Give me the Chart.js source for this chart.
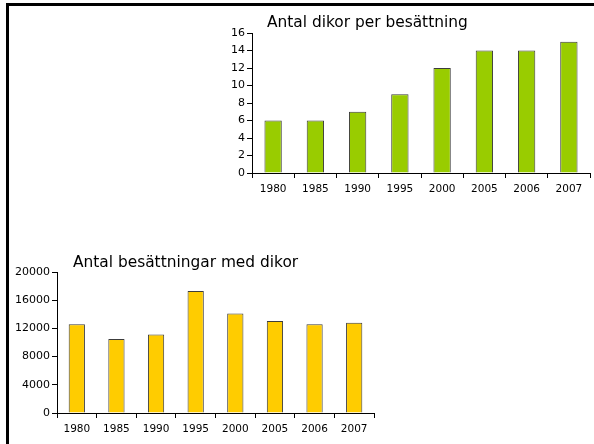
<!DOCTYPE html>
<html>
<head>
<meta charset="utf-8">
<script src="https://cdn.jsdelivr.net/npm/chart.js"></script>
<style>
  body { margin: 0; width: 594px; height: 444px; background: #fff; position: relative; overflow: hidden; }
  #frame { position: absolute; left: 6px; top: 3px; width: 600px; height: 460px;
           border-top: 3px solid #000; border-left: 3px solid #000; }
  canvas { position: absolute; }
  #topChart { left: 200px; top: 8px; }
  #bottomChart { left: 10px; top: 245px; }
</style>
</head>
<body>
<div id="frame"></div>
<canvas id="topChart" width="394" height="200"></canvas>
<canvas id="bottomChart" width="380" height="199"></canvas>
<script>
// data
const years = ['1980', '1985', '1990', '1995', '2000', '2005', '2006', '2007'];
const cowsPerHerd = [6, 6, 7, 9, 12, 14, 14, 15];
const herdsWithCows = [12600, 10500, 11150, 17300, 14100, 13050, 12600, 12800];
const topTitle = 'Antal dikor per besättning';
const bottomTitle = 'Antal besättningar med dikor';

const FONT = "'DejaVu Sans', sans-serif";

// title drawn at a fixed spot of the canvas, like the original slide
const cornerTitle = {
  id: 'cornerTitle',
  afterDraw(chart, args, opts) {
    const ctx = chart.ctx;
    ctx.save();
    ctx.font = '15.4px ' + FONT;
    ctx.fillStyle = '#000';
    ctx.textBaseline = 'alphabetic';
    ctx.fillText(opts.text, opts.x, opts.y);
    ctx.restore();
  }
};

function makeChart(id, values, color, yMax, yStep, yWidth, xHeight, padding, title) {
  return new Chart(document.getElementById(id), {
    type: 'bar',
    data: {
      labels: years,
      datasets: [{
        data: values,
        backgroundColor: color,
        borderColor: '#3c3c3c',
        borderWidth: 1,
        borderSkipped: 'bottom',
        categoryPercentage: 1,
        barPercentage: 0.41
      }]
    },
    options: {
      responsive: false,
      animation: false,
      devicePixelRatio: 1,
      layout: { padding: padding },
      plugins: {
        legend: { display: false },
        tooltip: { enabled: false },
        cornerTitle: title
      },
      scales: {
        x: {
          grid: { drawOnChartArea: false, drawTicks: true, tickLength: 5, color: '#000' },
          border: { display: true, color: '#000' },
          ticks: { color: '#000', padding: 5, maxRotation: 0, font: { family: FONT, size: 10.5 } },
          afterFit: s => { s.height = xHeight; }
        },
        y: {
          min: 0,
          max: yMax,
          grid: { drawOnChartArea: false, drawTicks: true, tickLength: 5, color: '#000' },
          border: { display: true, color: '#000' },
          ticks: {
            stepSize: yStep, color: '#000', padding: 2,
            font: { family: FONT, size: 11 },
            callback: v => String(v)
          },
          afterFit: s => { s.width = yWidth; }
        }
      }
    },
    plugins: [cornerTitle]
  });
}

makeChart('topChart', cowsPerHerd, '#99cc00', 16, 2, 30, 35,
  { left: 22, right: 4, top: 25, bottom: 0 },
  { text: topTitle, x: 67, y: 19 });

makeChart('bottomChart', herdsWithCows, '#ffcc00', 20000, 4000, 45, 31,
  { left: 2, right: 16, top: 27, bottom: 0 },
  { text: bottomTitle, x: 63, y: 22 });
</script>
</body>
</html>
